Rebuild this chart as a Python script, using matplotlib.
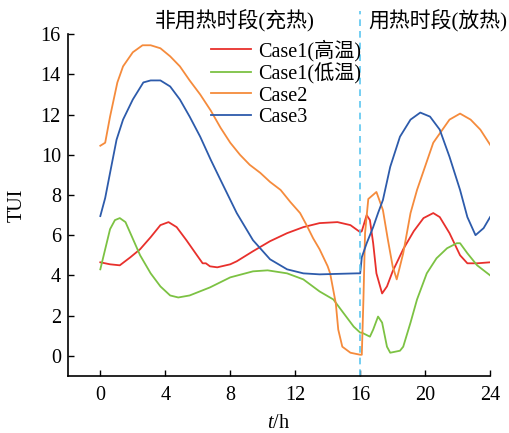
import numpy as np
import matplotlib
matplotlib.use("Agg")
import matplotlib.pyplot as plt

plt.rcParams['font.family'] = ['Liberation Serif', 'Noto Sans CJK SC']
plt.rcParams['mathtext.fontset'] = 'custom'
plt.rcParams['mathtext.it'] = 'Liberation Serif:italic'
plt.rcParams['mathtext.rm'] = 'Liberation Serif'

# Case1 (高温)
t_hi = [0, 0.6, 1.2, 1.85, 2.45, 3.1, 3.7, 4.2, 4.7, 5.3, 5.95, 6.3, 6.5, 6.75, 7.2, 8.0,
        8.4, 9.4, 10.45, 11.5, 12.5, 13.5, 14.6, 15.4, 16.0, 16.1, 16.4, 16.6, 16.8, 17.0,
        17.35, 17.65, 18.0, 18.65, 19.3, 19.9, 20.5, 20.9, 21.5, 22.15, 22.6, 23.2, 24]
v_hi = [4.65, 4.55, 4.5, 4.9, 5.3, 5.9, 6.5, 6.65, 6.4, 5.75, 5.0, 4.6, 4.6, 4.45, 4.4, 4.55,
        4.7, 5.2, 5.7, 6.1, 6.4, 6.6, 6.65, 6.5, 6.15, 6.2, 7.0, 6.75, 5.6, 4.1,
        3.1, 3.45, 4.2, 5.3, 6.2, 6.85, 7.1, 6.9, 6.1, 5.0, 4.6, 4.6, 4.65]

# Case1 (低温)
t_lo = [0, 0.3, 0.6, 0.9, 1.2, 1.55, 1.85, 2.45, 3.1, 3.7, 4.3, 4.8, 5.5, 6.75, 8.0, 9.4,
        10.3, 11.5, 12.5, 13.5, 14.35, 14.95, 15.6, 16.0, 16.1, 16.6, 16.8, 17.1, 17.35,
        17.65, 17.85, 18.45, 18.65, 19.1, 19.5, 20.1, 20.7, 21.35, 21.95, 22.15, 22.6, 23.2, 24]
v_lo = [4.3, 5.3, 6.3, 6.75, 6.85, 6.65, 6.1, 5.0, 4.1, 3.45, 3.0, 2.9, 3.0, 3.4, 3.9, 4.2,
        4.25, 4.1, 3.8, 3.2, 2.8, 2.15, 1.45, 1.15, 1.15, 0.95, 1.3, 1.95, 1.65,
        0.45, 0.15, 0.25, 0.45, 1.65, 2.8, 4.1, 4.85, 5.35, 5.6, 5.6, 5.1, 4.5, 4.0]

# Case2
t_c2 = [0, 0.3, 0.6, 1.05, 1.4, 2.0, 2.6, 3.1, 3.7, 4.3, 4.9, 5.5, 6.15, 6.8, 7.4, 8.0,
        8.6, 9.2, 9.85, 10.45, 11.1, 11.7, 12.3, 12.7, 13.1, 13.5, 14.0, 14.15, 14.5, 14.65,
        14.9, 15.4, 16.0, 16.1, 16.2, 16.3, 16.5, 17.0, 17.4, 17.7, 18.0, 18.25, 18.65,
        19.1, 19.5, 20.5, 21.5, 22.15, 22.8, 23.4, 24]
v_c2 = [10.45, 10.6, 11.9, 13.6, 14.4, 15.1, 15.45, 15.45, 15.3, 14.9, 14.4, 13.7, 13.0, 12.2, 11.35, 10.6,
        10.0, 9.5, 9.1, 8.65, 8.25, 7.65, 7.1, 6.5, 5.85, 5.3, 4.45, 4.1, 2.6, 1.3,
        0.45, 0.15, 0.05, 0.05, 2.8, 6.1, 7.8, 8.15, 7.25, 5.8, 4.45, 3.8, 5.1,
        7.1, 8.25, 10.6, 11.75, 12.05, 11.75, 11.25, 10.5]

# Case3
t_c3 = [0, 0.3, 0.6, 1.0, 1.4, 2.0, 2.65, 3.1, 3.7, 4.3, 4.9, 5.5, 6.15, 6.8, 7.4, 8.4,
        9.4, 10.45, 11.5, 12.5, 13.5, 15.8, 16.0, 16.1, 16.4, 16.8, 17.1, 17.4, 17.85,
        18.45, 19.1, 19.7, 20.3, 20.9, 21.5, 22.15, 22.6, 23.1, 23.6, 24]
v_c3 = [6.95, 7.85, 9.1, 10.75, 11.75, 12.75, 13.6, 13.7, 13.7, 13.4, 12.75, 11.9, 10.9, 9.75, 8.75, 7.1,
        5.75, 4.8, 4.3, 4.1, 4.05, 4.1, 4.1, 4.9, 5.6, 6.4, 7.1, 7.75, 9.4,
        10.9, 11.75, 12.1, 11.9, 11.25, 9.9, 8.25, 6.9, 6.0, 6.35, 6.9]

fig = plt.figure(figsize=(5.1, 4.33), dpi=100)
ax = fig.add_axes([0.133, 0.132, 0.828, 0.789])

ax.plot(t_hi, v_hi, color='#e8302c', lw=1.3, label='Case1(高温)')
ax.plot(t_lo, v_lo, color='#7cc243', lw=1.3, label='Case1(低温)')
ax.plot(t_c2, v_c2, color='#f58b3c', lw=1.3, label='Case2')
ax.plot(t_c3, v_c3, color='#2d5bab', lw=1.3, label='Case3')

ax.plot([16, 16], [-1, 17.15], color='#5cc6f0', lw=1.2, ls=(0, (4, 3)), clip_on=False)

ax.set_xlim(-2, 24)
ax.set_ylim(-1, 16)
ax.set_xticks(np.arange(0, 25, 4))
ax.set_yticks(np.arange(0, 17, 2))
ax.tick_params(direction='in', length=4.5, labelsize=14.5, width=1)
ax.tick_params(axis='x', pad=7)
ax.tick_params(axis='y', pad=5)
for s in ['top', 'right']:
    ax.spines[s].set_visible(False)
for s in ['left', 'bottom']:
    ax.spines[s].set_linewidth(1.2)

ax.set_xlabel('$t$/h', fontsize=14.5, labelpad=7)
ax.set_ylabel('TUI', fontsize=14.5, labelpad=10)

ax.text(8.3, 16.62, '非用热时段(充热)', fontsize=15, ha='center', va='center', clip_on=False)
ax.text(20.75, 16.62, '用热时段(放热)', fontsize=15, ha='center', va='center', clip_on=False)

ax.legend(loc='upper left', bbox_to_anchor=(0.34, 0.985), frameon=False, fontsize=14.5,
          borderpad=0, borderaxespad=0, handlelength=1.95, handletextpad=0.35, labelspacing=0.1)

fig.savefig('out.png', dpi=100)
